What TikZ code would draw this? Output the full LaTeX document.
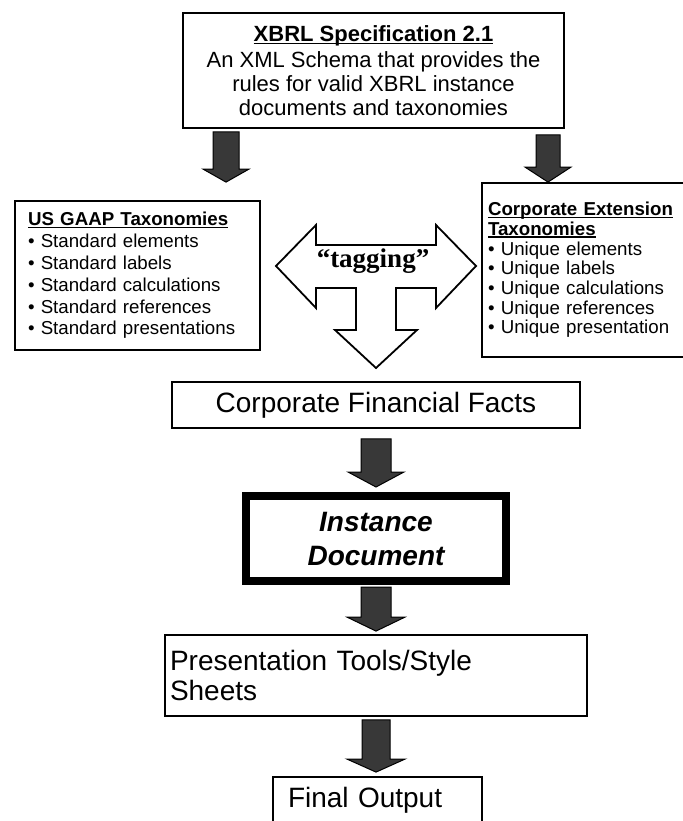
\documentclass[tikz,border=0pt]{standalone}
\usepackage{fontspec}
\setmainfont{Liberation Sans}
\newfontfamily\tagfont{Liberation Serif}
\usetikzlibrary{calc}

% underline at a fixed depth below the baseline
\newcommand\undl[1]{\setbox0\hbox{#1}\rlap{\rule[-2.2pt]{\wd0}{1.3pt}}\box0}

% fat downward block arrow: start point, tip point, shaft half width, head half width, head length
\newcommand\blockdown[5]{%
  \path[fat] let \p1=#1, \p2=#2 in
    (\x2-#3pt,\y1) -- (\x2+#3pt,\y1) -- (\x2+#3pt,\y2+#5pt) -- (\x2+#4pt,\y2+#5pt)
    -- (\p2) -- (\x2-#4pt,\y2+#5pt) -- (\x2-#3pt,\y2+#5pt) -- cycle;}

\tikzset{
  box/.style={draw=black, line width=1.8pt, rectangle, inner sep=0pt, fill=white},
  fat/.style={fill=black!78, draw=black, line width=1pt},
  tee/.style={draw=black, line width=1.8pt, fill=white, line join=miter},
}

\begin{document}
\begin{tikzpicture}[x=1pt,y=-1pt]
\useasboundingbox (0,0) rectangle (682,821);
\fill[white] (0,0) rectangle (682,821);

% specification
\node[box, minimum width=381pt, minimum height=115pt, align=center,
      font={\fontsize{22}{23.8}\selectfont}] (spec) at (373.5,70.5)
  {\textbf{\undl{XBRL Specification 2.1}}\\[2pt]
   An XML Schema that provides the\\
   rules for valid XBRL instance\\
   documents and taxonomies};

% taxonomies
\node[box, minimum width=245pt, minimum height=149pt, text width=219pt, inner xsep=13pt,
      align=left, font={\fontsize{18.7}{21.8}\selectfont}] (gaap) at (137.5,275.5)
  {\textbf{\undl{US GAAP Taxonomies}}\\
   • Standard elements\\
   • Standard labels\\
   • Standard calculations\\
   • Standard references\\
   • Standard presentations};

\node[box, minimum width=202pt, minimum height=174pt, text width=190pt, inner xsep=6pt,
      align=left, font={\fontsize{18.7}{19.7}\selectfont}] (ext) at (583,270)
  {\textbf{\undl{Corporate Extension}}\\
   \textbf{\undl{Taxonomies}}\\
   • Unique elements\\
   • Unique labels\\
   • Unique calculations\\
   • Unique references\\
   • Unique presentation};

% tagging tee arrow
\draw[tee] (276,266) -- (316,225) -- (316,245) -- (436,245) -- (436,225) -- (476,266)
  -- (436,308) -- (436,288) -- (396,288) -- (396,330) -- (417,330) -- (376,368)
  -- (335,330) -- (356,330) -- (356,288) -- (316,288) -- (316,308) -- cycle;
\node[font={\tagfont\bfseries\fontsize{27}{27}\selectfont}, inner sep=0pt] (tag) at (373,261) {“tagging”};

% chain of boxes
\node[box, minimum width=408pt, minimum height=46pt,
      font={\fontsize{28}{30}\selectfont}] (facts) at (376,405) {Corporate Financial Facts};

\node[box, line width=8pt, minimum width=260pt, minimum height=85pt, align=center,
      font={\fontsize{28}{34}\selectfont\bfseries\itshape}] (inst) at (376,538.5)
  {Instance\\Document};

\node[box, minimum width=422pt, minimum height=81pt, text width=412pt, inner xsep=5pt,
      align=left, font={\fontsize{28}{30}\selectfont}] (pres) at (376,675.5)
  {Presentation Tools/Style\\Sheets};

\node[box, minimum width=209pt, minimum height=46pt, text width=179pt, inner xsep=15pt,
      align=left, font={\fontsize{28}{30}\selectfont}] (final) at (377.5,800) {Final Output};

% block arrows
\blockdown{($(spec.south)+(0,3)$)}{($(gaap.north)+(88.5,-18)$)}{13}{23}{13}
\blockdown{($(spec.south)+(0,6)$)}{($(ext.north)+(-35,0)$)}{12}{23}{15}
\blockdown{($(facts.south)+(0,10)$)}{($(inst.north)+(0,-5)$)}{15}{28}{15}
\blockdown{($(inst.south)+(0,2)$)}{($(pres.north)+(0,-3)$)}{15}{29}{14}
\blockdown{($(pres.south)+(0,3)$)}{($(final.north)+(-1.5,-4)$)}{14}{29}{13}
\end{tikzpicture}
\end{document}
